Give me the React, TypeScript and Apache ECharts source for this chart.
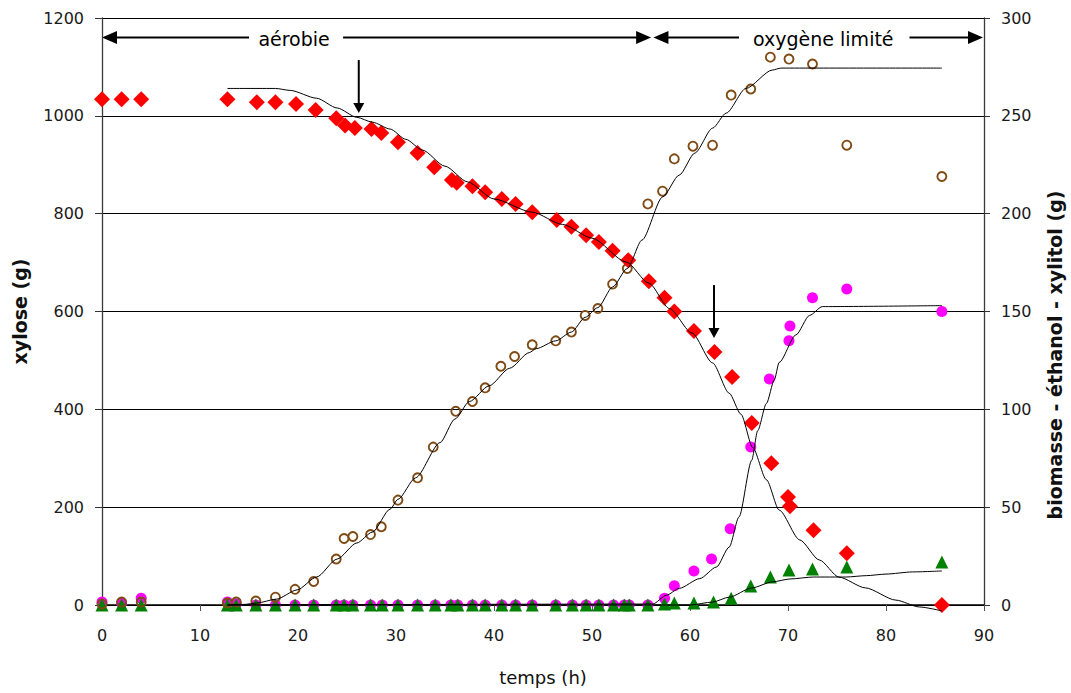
import React, { useEffect, useRef } from "react";
import * as echarts from "echarts";

// ---------- data ----------
const xyloseT = [0, 2, 4, 12.8, 15.8, 17.7, 19.8, 21.8, 23.9, 24.8, 25.8, 27.5, 28.5, 30.2, 32.2, 33.9, 35.7, 36.2, 37.8, 39.1, 40.8, 42.2, 43.9, 46.4, 47.9, 49.4, 50.7, 52.1, 53.7, 55.8, 57.4, 58.4, 60.4, 62.5, 64.3, 66.3, 68.3, 70.0, 70.2, 72.6, 76.0, 85.7];
const xyloseV = [1034, 1034, 1034, 1034, 1028, 1028, 1024, 1012, 995, 980, 975, 973, 965, 946, 924, 895, 869, 863, 856, 844, 830, 820, 803, 787, 773, 756, 742, 724, 705, 662, 628, 600, 560, 517, 466, 372, 290, 221, 202, 153, 106, 0];

const biomassT = [0, 2, 4, 12.8, 13.7, 15.7, 17.7, 19.7, 21.6, 23.9, 24.7, 25.6, 27.4, 28.5, 30.2, 32.2, 33.8, 36.1, 37.8, 39.1, 40.7, 42.1, 43.9, 46.3, 47.9, 49.3, 50.6, 52.1, 53.6, 55.7, 57.2, 58.4, 60.3, 62.3, 64.2, 66.2, 68.2, 70.1, 72.5, 76.0, 85.7];
const biomassV = [0.5, 1.5, 1.5, 1, 1.5, 2, 4, 8, 12, 23.5, 34, 35, 36, 40, 53.6, 65, 80.7, 99, 104, 111, 122, 127, 133, 135, 139.5, 148, 151.5, 164, 172, 205, 211.5, 228, 234.5, 235, 260.6, 263.7, 280, 279, 276.5, 235, 219];

const ethanolT = [0, 2, 4, 12.8, 13.7, 15.7, 17.7, 19.7, 21.6, 23.9, 24.7, 25.6, 27.4, 28.6, 30.2, 32.2, 34.0, 35.6, 36.3, 37.8, 39.1, 40.8, 42.2, 43.9, 46.3, 48.0, 49.4, 50.7, 52.2, 53.3, 53.8, 55.7, 57.4, 58.4, 60.4, 62.2, 64.1, 66.2, 68.1, 70.1, 70.2, 72.5, 76.0, 85.7];
const ethanolV = [1.5, 1, 3.5, 1.5, 0.5, 0, 0, 0, 0, 0, 0, 0, 0, 0, 0, 0, 0, 0, 0, 0, 0, 0, 0, 0, 0, 0, 0, 0, 0, 0, 0, 0, 3.5, 9.8, 17.4, 23.5, 39, 80.7, 115.5, 135, 142.6, 157, 161.5, 150];

const xylitolT = [0, 2, 4, 12.8, 13.7, 15.7, 17.7, 19.7, 21.6, 23.9, 24.7, 25.6, 27.4, 28.6, 30.2, 32.2, 34.0, 35.6, 36.3, 37.8, 39.1, 40.8, 42.2, 43.9, 46.3, 48.0, 49.4, 50.7, 52.2, 53.3, 53.8, 55.7, 57.4, 58.4, 60.4, 62.4, 64.2, 66.2, 68.2, 70.1, 72.5, 76.0, 85.7];
const xylitolV = [0, 0, 0, 0, 0, 0, 0, 0, 0, 0, 0, 0, 0, 0, 0, 0, 0, 0, 0, 0, 0, 0, 0, 0, 0, 0, 0, 0, 0, 0, 0, 0, 0.5, 1, 1, 1.5, 3.5, 9.7, 14.3, 17.9, 18.4, 19.4, 22];

// model curves (thin black lines)
const xyloseModelT = [12.8, 17.7, 19.2, 21.9, 24, 26, 27.6, 29.4, 31, 32.7, 35, 37.3, 40, 43.9, 47, 50, 53.5, 55.8, 57.9, 60.2, 62.3, 64, 65.2, 66.4, 67.8, 69.1, 71.2, 73.2, 75.2, 77.9, 81, 83.4, 85.7];
const xyloseModelV = [1056, 1056, 1052, 1036, 1016, 997, 987, 973, 952, 930, 897, 865, 830, 803, 778, 750, 701, 658, 606, 556, 495, 433, 390, 322, 256, 194, 133, 92, 57, 35, 10, -4, -12];

const biomassModelT = [12.8, 14.5, 15.8, 17.8, 19.9, 21.9, 24, 26, 27.6, 29.4, 30.2, 32, 34.5, 36, 37.5, 39.5, 41.6, 43.6, 44.3, 46.3, 47.9, 49.3, 50.6, 52.1, 53.6, 55.1, 57.2, 58.9, 60.5, 62.3, 63.7, 65.7, 68.4, 69.3, 85.7];
const biomassModelV = [0, 0.3, 1, 3, 7.7, 14.3, 23.5, 31.7, 37.3, 49, 54, 65, 83, 95, 104, 112, 121, 129, 131, 135, 139.5, 147, 152, 162.5, 172, 186.5, 208.5, 219.7, 231, 243.7, 251.4, 264, 273.4, 274.4, 274.4];

const ethanolModelT = [12.8, 56.2, 57.6, 58.9, 61, 62.7, 64, 65, 66.3, 66.9, 67.8, 68.6, 69.1, 70.8, 72.2, 73.5, 85.7];
const ethanolModelV = [0, 0.5, 5, 8.5, 13.5, 19.4, 29.6, 45, 74, 89, 103, 115, 124, 138, 148, 152.5, 153];

const xylitolModelT = [12.8, 60, 62.3, 64, 66.3, 68.4, 70.2, 72.6, 75.9, 78, 80, 82.7, 85.7];
const xylitolModelV = [0, 0, 1.5, 4, 8.7, 11.8, 13.3, 14.3, 14.3, 15, 15.8, 16.9, 17.4];

// annotations (data coordinates)
const phaseArrowY = 1160;
const phaseSegments: [number, number, "start" | "end"][] = [
  [0, 15.0, "start"],
  [24.6, 56.03, "end"],
  [56.27, 65.0, "start"],
  [82.4, 89.9, "end"],
];
const phaseLabels: [string, number][] = [
  ["aérobie", 19.6],
  ["oxygène limité", 73.6],
];
const downArrows: [number, number, number][] = [
  [26.2, 1114, 1006],
  [62.45, 654, 546],
];

const zip = (t: number[], v: number[]) => t.map((x, i) => [x, v[i]]);

const FONT = "DejaVu Sans";

export default function App() {
  const ref = useRef<HTMLDivElement>(null);

  useEffect(() => {
    const chart = echarts.init(ref.current!, null, { renderer: "svg" });

    const lineSeries = (name: string, t: number[], v: number[], yAxisIndex: number) => ({
      name,
      type: "line",
      yAxisIndex,
      data: zip(t, v),
      symbol: "none",
      showSymbol: false,
      clip: false,
      silent: true,
      smooth: 0.25,
      smoothMonotone: "x",
      lineStyle: { color: "#000", width: 1 },
    });

    const plain = (v: number) => String(v);

    chart.setOption({
      animation: false,
      backgroundColor: "#fff",
      grid: { left: 102, right: 87, top: 18, bottom: 88, containLabel: false },
      xAxis: {
        type: "value",
        min: 0,
        max: 90,
        interval: 10,
        name: "temps (h)",
        nameLocation: "middle",
        nameGap: 63,
        nameTextStyle: { fontFamily: FONT, fontSize: 18, color: "#111" },
        axisLine: { show: true, onZero: false, lineStyle: { color: "#000", width: 1.5 } },
        axisTick: { show: true, length: 6, lineStyle: { color: "#555" } },
        axisLabel: { fontFamily: FONT, fontSize: 16, color: "#1a1a1a", margin: 22, formatter: plain },
        splitLine: { show: false },
      },
      yAxis: [
        {
          type: "value",
          min: 0,
          max: 1200,
          interval: 200,
          name: "xylose (g)",
          nameLocation: "middle",
          nameRotate: 90,
          nameGap: 73,
          nameTextStyle: { fontFamily: FONT, fontSize: 19, fontWeight: "bold", color: "#111" },
          axisLine: { show: true, lineStyle: { color: "#3a3a3a", width: 1.3 } },
          axisTick: { show: true, length: 7, lineStyle: { color: "#333" } },
          axisLabel: { fontFamily: FONT, fontSize: 16, color: "#1a1a1a", margin: 18, formatter: plain },
          splitLine: { show: true, lineStyle: { color: "#000", width: 1 } },
        },
        {
          type: "value",
          min: 0,
          max: 300,
          interval: 50,
          position: "right",
          axisLine: { show: true, lineStyle: { color: "#3a3a3a", width: 1.3 } },
          axisTick: { show: true, length: 6, lineStyle: { color: "#333" } },
          axisLabel: { fontFamily: FONT, fontSize: 16, color: "#1a1a1a", margin: 17, formatter: plain },
          splitLine: { show: false },
        },
      ],
      series: [
        {
          name: "éthanol",
          type: "scatter",
          yAxisIndex: 1,
          data: zip(ethanolT, ethanolV),
          symbol: "circle",
          symbolSize: 11,
          itemStyle: { color: "#ff00ff", opacity: 1 },
        },
        {
          name: "xylitol",
          type: "scatter",
          yAxisIndex: 1,
          data: zip(xylitolT, xylitolV),
          symbol: "triangle",
          symbolSize: 13,
          itemStyle: { color: "#008000", opacity: 1 },
        },
        {
          name: "biomasse",
          type: "scatter",
          yAxisIndex: 1,
          data: zip(biomassT, biomassV),
          symbol: "circle",
          symbolSize: 9,
          itemStyle: { color: "rgba(255,255,255,0)", borderColor: "#7f4a14", borderWidth: 1.9, opacity: 1 },
        },
        lineSeries("modèle biomasse", biomassModelT, biomassModelV, 1),
        lineSeries("modèle éthanol", ethanolModelT, ethanolModelV, 1),
        lineSeries("modèle xylitol", xylitolModelT, xylitolModelV, 1),
        lineSeries("modèle xylose", xyloseModelT, xyloseModelV, 0),
        {
          name: "xylose",
          type: "scatter",
          yAxisIndex: 0,
          data: zip(xyloseT, xyloseV),
          symbol: "diamond",
          symbolSize: 16,
          itemStyle: { color: "#ff0000", opacity: 1 },
        },
      ],
    });

    const p = (x: number, y: number) =>
      chart.convertToPixel({ xAxisIndex: 0, yAxisIndex: 0 }, [x, y]) as number[];

    const elements: any[] = [];
    const HL = 15; // horizontal head length
    const HW = 6.5; // half width
    phaseSegments.forEach(([x1, x2, head]) => {
      const a = p(x1, phaseArrowY);
      const b = p(x2, phaseArrowY);
      const y = a[1];
      let s = a[0];
      let e = b[0];
      if (head === "start") {
        elements.push({
          type: "polygon",
          silent: true,
          shape: { points: [[a[0], y], [a[0] + HL, y - HW], [a[0] + HL, y + HW]] },
          style: { fill: "#000" },
        });
        s = a[0] + HL - 1;
      } else {
        elements.push({
          type: "polygon",
          silent: true,
          shape: { points: [[b[0], y], [b[0] - HL, y - HW], [b[0] - HL, y + HW]] },
          style: { fill: "#000" },
        });
        e = b[0] - HL + 1;
      }
      elements.push({
        type: "line",
        silent: true,
        shape: { x1: s, y1: y, x2: e, y2: y },
        style: { stroke: "#000", lineWidth: 2 },
      });
    });
    phaseLabels.forEach(([text, x]) => {
      const c = p(x, phaseArrowY);
      elements.push({
        type: "text",
        silent: true,
        x: c[0],
        y: c[1] + 1,
        style: {
          text,
          fill: "#000",
          font: `19px "${FONT}"`,
          align: "center",
          verticalAlign: "middle",
          textAlign: "center",
          textVerticalAlign: "middle",
        },
      });
    });
    const VL = 10;
    const VW = 5.5;
    downArrows.forEach(([x, yTop, yTip]) => {
      const t = p(x, yTop);
      const tip = p(x, yTip);
      elements.push({
        type: "line",
        silent: true,
        shape: { x1: t[0], y1: t[1], x2: tip[0], y2: tip[1] - VL + 1 },
        style: { stroke: "#000", lineWidth: 2 },
      });
      elements.push({
        type: "polygon",
        silent: true,
        shape: { points: [[tip[0], tip[1]], [tip[0] - VW, tip[1] - VL], [tip[0] + VW, tip[1] - VL]] },
        style: { fill: "#000" },
      });
    });
    // right axis title
    elements.push({
      type: "text",
      silent: true,
      x: 1055,
      y: 355,
      rotation: Math.PI / 2,
      style: {
        text: "biomasse - éthanol - xylitol (g)",
        fill: "#111",
        font: `bold 19px "${FONT}"`,
        align: "center",
        verticalAlign: "middle",
        textAlign: "center",
        textVerticalAlign: "middle",
      },
    });

    chart.setOption({ graphic: elements });

    return () => chart.dispose();
  }, []);

  return (
    <div
      ref={ref}
      style={{ position: "fixed", left: 0, top: 0, width: 1071, height: 693, background: "#fff" }}
    />
  );
}
